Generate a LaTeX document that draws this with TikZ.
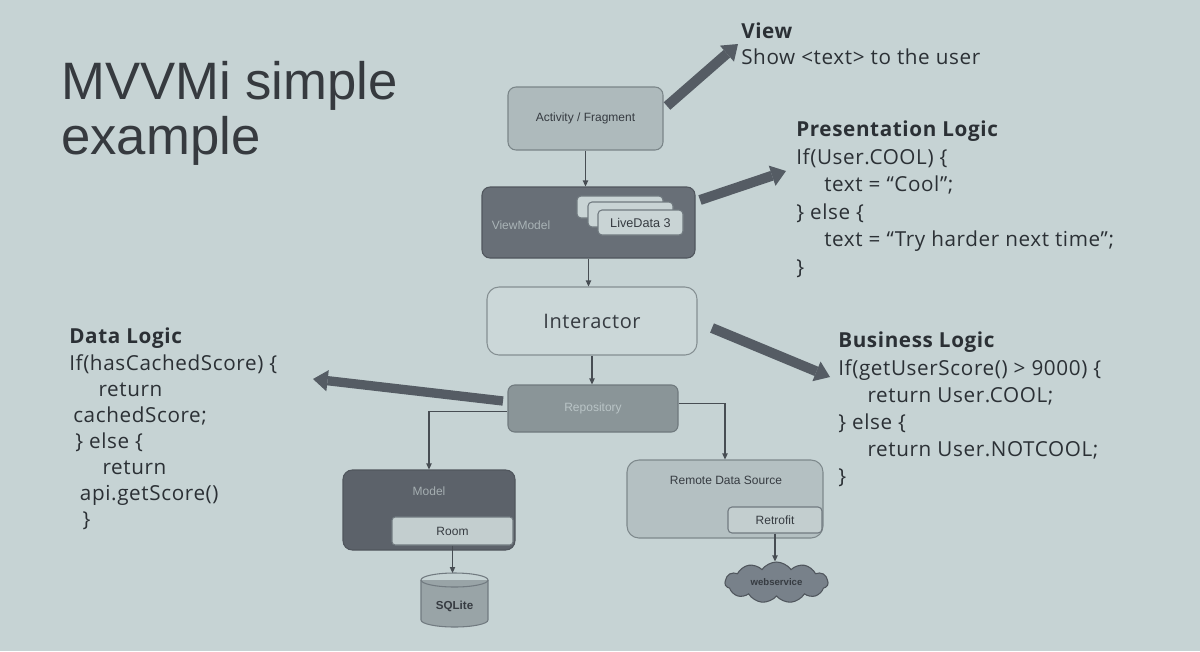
\documentclass[tikz,border=0pt]{standalone}
\usepackage{fontspec}
\setmainfont{Open Sans}[LetterSpace=3]
\newfontfamily\helv{Liberation Sans}
\usetikzlibrary{arrows.meta,shapes.symbols}
\definecolor{bg}{HTML}{C6D3D4}
\definecolor{txt}{HTML}{2B3035}
\definecolor{tarrow}{HTML}{555C64}
\definecolor{cline}{HTML}{474D53}
\definecolor{actfill}{HTML}{AEBABC}
\definecolor{actdraw}{HTML}{7A8588}
\definecolor{vmfill}{HTML}{686F77}
\definecolor{vmdraw}{HTML}{50565D}
\definecolor{vmtext}{HTML}{A9B3B6}
\definecolor{cardfill}{HTML}{C9D4D5}
\definecolor{carddraw}{HTML}{717A80}
\definecolor{intfill}{HTML}{CBD7D8}
\definecolor{intdraw}{HTML}{858F92}
\definecolor{repofill}{HTML}{8A9598}
\definecolor{repodraw}{HTML}{6F797D}
\definecolor{repotext}{HTML}{B9C4C6}
\definecolor{modfill}{HTML}{5C626A}
\definecolor{modtext}{HTML}{A5AEB1}
\definecolor{roomfill}{HTML}{C3CECF}
\definecolor{remfill}{HTML}{B4C0C2}
\definecolor{remdraw}{HTML}{7E898C}
\definecolor{cylfill}{HTML}{99A4A7}
\definecolor{cloudfill}{HTML}{78818A}
\definecolor{boxtxt}{HTML}{363B41}
\begin{document}
\begin{tikzpicture}[x=0.75pt,y=-0.75pt,
  box/.style={draw=#1, line width=0.8pt, inner sep=0pt, rounded corners=6pt},
  lbl/.style={font=\helv\fontsize{9}{10}\selectfont, text=boxtxt, inner sep=0pt},
  thinarrow/.style={draw=cline, line width=0.8pt, -{Triangle[length=4.5pt,width=4pt]}},
  fatarrow/.style={draw=tarrow, fill=tarrow, line width=7.5pt,
     -{Triangle[length=11pt,width=16pt,line width=0pt]}},
  codeblock/.style={font=\fontsize{15.5}{20.3}\selectfont, text=txt, align=left, inner sep=0pt, anchor=north west}
]
\fill[bg] (0,0) rectangle (1200,651);
\useasboundingbox (0,0) rectangle (1200,651);

% title
\node[font=\helv\fontsize{39.5}{41.25}\selectfont, text=txt!95, align=left, inner sep=0pt, anchor=north west] (title) at (61,61) {MVVMi simple\\example};

% boxes
\node[box=actdraw, fill=actfill, minimum width=116.25pt, minimum height=47.25pt, lbl] (act) at (585.5,118.5) {Activity / Fragment};
\node[box=vmdraw, fill=vmfill, minimum width=159.75pt, minimum height=53.25pt] (vm) at (588.5,222.5) {};
\node[lbl, text=vmtext] (vmlbl) at (521,225) {ViewModel};
\node[box=carddraw, fill=cardfill, rounded corners=3pt, minimum width=64.5pt, minimum height=16.5pt] (ld1) at (620,207) {};
\node[box=carddraw, fill=cardfill, rounded corners=3pt, minimum width=63.75pt, minimum height=18.75pt] (ld2) at (630.5,214.5) {};
\node[box=carddraw, fill=cardfill, rounded corners=3pt, minimum width=63.75pt, minimum height=18.75pt, lbl, font=\helv\fontsize{9.5}{10}\selectfont] (ld3) at (640.5,222.5) {LiveData 3};

\node[box=intdraw, fill=intfill, rounded corners=9pt, minimum width=157.5pt, minimum height=51pt, font=\fontsize{15}{18}\selectfont, text=boxtxt] (inter) at (592,321) {Interactor};

\node[box=repodraw, fill=repofill, rounded corners=5pt, minimum width=127.5pt, minimum height=35.25pt, lbl, text=repotext] (repo) at (593,408.5) {Repository};

\node[box=vmdraw, fill=modfill, rounded corners=7pt, minimum width=129pt, minimum height=60pt] (model) at (429,510) {};
\node[lbl, text=modtext] (modlbl) at (429,491) {Model};
\node[box=carddraw, fill=roomfill, rounded corners=2.5pt, minimum width=90.75pt, minimum height=21pt, lbl] (room) at (452.5,531) {Room};

\node[box=remdraw, fill=remfill, rounded corners=9pt, minimum width=147pt, minimum height=58.5pt] (remote) at (725,499) {};
\node[lbl] (remlbl) at (726,480) {Remote Data Source};
\node[box=carddraw, fill=roomfill, rounded corners=3pt, minimum width=70.5pt, minimum height=19.5pt, lbl] (retro) at (775,520) {Retrofit};

% SQLite cylinder
\fill[cylfill] (421,580) rectangle (488,620);
\fill[cylfill] (454.5,620) ellipse[x radius=33.5, y radius=7];
\draw[carddraw, line width=0.8pt] (454.5,580) ellipse[x radius=33.5, y radius=7];
\draw[carddraw, line width=0.8pt] (421,580) -- (421,620) arc[start angle=180, end angle=0, x radius=33.5, y radius=7] -- (488,580);
\node[lbl, font=\helv\bfseries\fontsize{8.7}{10}\selectfont] (sql) at (454.5,606) {SQLite};
\coordinate (sqltop) at (454.5,573);

% cloud
\node[cloud, cloud puffs=11, cloud puff arc=110, aspect=2.5, draw=vmdraw, fill=cloudfill, line width=0.8pt, minimum width=77.25pt, minimum height=30.75pt, inner sep=0pt, lbl, font=\helv\bfseries\fontsize{7.2}{9}\selectfont] (ws) at (776.5,582.5) {webservice};

% thin connectors
\draw[thinarrow] (act.south) -- (act.south |- vm.north);
\draw[thinarrow] (vm.south) -- (vm.south |- inter.north);
\draw[thinarrow] (inter.south) -- (inter.south |- repo.north);
\draw[thinarrow] ([yshift=-2.5pt]repo.west) -| (model.north);
\draw[thinarrow] ([yshift=4pt]repo.east) -| (remote.north);
\draw[thinarrow] (room.south) -- (room.south |- sqltop);
\draw[thinarrow] (retro.south) -- (retro.south |- ws.north);

% text blocks
\node[codeblock, font=\fontsize{15.5}{19}\selectfont] (viewtxt) at (741,23) {\textbf{View}\\Show <text> to the user};
\node[codeblock, font=\fontsize{15.5}{20.6}\selectfont] (prestxt) at (796,121) {\textbf{Presentation Logic}\\If(User.COOL) \{\\\hspace*{21pt}text = “Cool”;\\\} else \{\\\hspace*{21pt}text = “Try harder next time”;\\\}};
\node[codeblock] (bustxt) at (838,332) {\textbf{Business Logic}\\If(getUserScore() > 9000) \{\\\hspace*{22pt}return User.COOL;\\\} else \{\\\hspace*{22pt}return User.NOTCOOL;\\\}};
\node[codeblock, font=\fontsize{15.5}{19.6}\selectfont] (datatxt) at (69,328) {\textbf{Data Logic}\\If(hasCachedScore) \{\\\hspace*{22pt}return\\\hspace*{3pt}cachedScore;\\\hspace*{4.5pt}\} else \{\\\hspace*{25pt}return\\\hspace*{8pt}api.getScore()\\\hspace*{10pt}\}};

% fat arrows
\coordinate (v1) at (667,106); \coordinate (v2) at (738,44);
\coordinate (p1) at (700,200); \coordinate (p2) at (786,171);
\coordinate (b1) at (712,328); \coordinate (b2) at (830,377);
\coordinate (d1) at (503,401); \coordinate (d2) at (313,379);
\draw[fatarrow] (v1) -- (v2);
\draw[fatarrow] (p1) -- (p2);
\draw[fatarrow] (b1) -- (b2);
\draw[fatarrow, line width=7pt] (d1) -- (d2);
\end{tikzpicture}
\end{document}
